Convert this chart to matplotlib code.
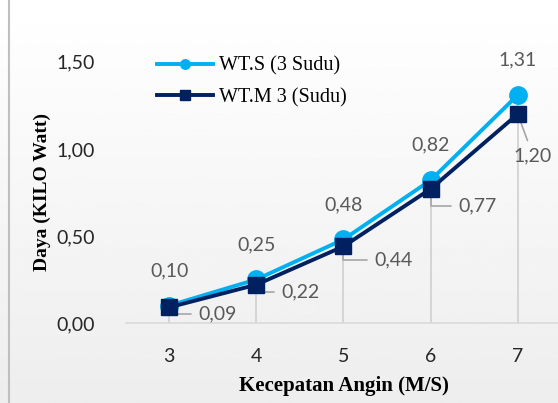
import numpy as np
import matplotlib
matplotlib.use("Agg")
import matplotlib.pyplot as plt
from matplotlib.lines import Line2D

# data
kecepatan = [3, 4, 5, 6, 7]
wt_s = [0.10, 0.25, 0.48, 0.82, 1.31]
wt_m = [0.09, 0.22, 0.44, 0.77, 1.20]
y_ticks = [0.0, 0.5, 1.0, 1.5]
y_ticklabels = ["0,00", "0,50", "1,00", "1,50"]

C_S = "#00B0F0"
C_M = "#002060"
GRAY = "#595959"
NUM_FONT = ["Lato", "DejaVu Sans"]
SERIF = ["Liberation Serif", "DejaVu Serif"]


def fmt(v):
    return f"{v:.2f}".replace(".", ",")


fig = plt.figure(figsize=(5.58, 4.03), dpi=100)

# background gradient (white -> light gray)
bg = fig.add_axes([0, 0, 1, 1], zorder=-10)
grad = np.linspace(1.0, 0.93, 256).reshape(-1, 1)
bg.imshow(grad, cmap="gray", vmin=0, vmax=1, aspect="auto", extent=[0, 1, 0, 1])
bg.axis("off")
fig.add_artist(Line2D([0.017, 0.017], [0, 1], color="#BFBFBF", lw=1.5))

ax = fig.add_axes([0.225, 0.1985, 0.781, 0.648])
ax.patch.set_alpha(0)
ax.set_xlim(2.5, 7.5)
ax.set_ylim(0, 1.5)

# drop lines
ax.vlines(kecepatan, 0, wt_s, color="#D0D0D0", lw=1.2, zorder=1)

ax.plot(kecepatan, wt_s, color=C_S, lw=2.8, marker="o", ms=12.5, zorder=3,
        label="WT.S (3 Sudu)", clip_on=False)
ax.plot(kecepatan, wt_m, color=C_M, lw=2.8, marker="s", ms=12, zorder=4,
        label="WT.M 3 (Sudu)", clip_on=False)

# labels for WT.S (above)
for x, y in zip(kecepatan, wt_s):
    ax.annotate(fmt(y), (x, y), xytext=(0, 19), textcoords="offset points",
                ha="center", va="bottom", fontsize=14, color=GRAY,
                family=NUM_FONT, annotation_clip=False)

# labels for WT.M (below right, with leader lines)
offs_m = [(21, -5), (18, -5), (22, -10), (20, -12), (11, -30)]
for i, (x, y, o) in enumerate(zip(kecepatan, wt_m, offs_m)):
    last = i == len(kecepatan) - 1
    conn = "arc3" if last else "angle,angleA=0,angleB=-90,rad=0"
    ax.annotate(fmt(y), (x, y), xytext=o, textcoords="offset points",
                ha="center" if last else "left", va="center",
                fontsize=14, color=GRAY, family=NUM_FONT,
                annotation_clip=False,
                arrowprops=dict(arrowstyle="-", color="#A6A6A6", lw=1.2,
                                shrinkA=3, shrinkB=0, connectionstyle=conn))

ax.set_xticks(kecepatan)
ax.set_xticklabels([str(k) for k in kecepatan], fontsize=14, family=NUM_FONT,
                   color="#262626")
ax.set_yticks(y_ticks)
ax.set_yticklabels(y_ticklabels, fontsize=14, family=NUM_FONT, color="#262626")
ax.tick_params(axis="x", length=0, pad=18)
ax.tick_params(axis="y", length=0, pad=22)
for s in ["top", "right", "left"]:
    ax.spines[s].set_visible(False)
ax.spines["bottom"].set_color("#D9D9D9")
ax.spines["bottom"].set_linewidth(1.2)

ax.set_xlabel("Kecepatan Angin (M/S)", fontsize=15, fontweight="bold",
              family=SERIF, labelpad=8)
ax.set_ylabel("Daya (KILO Watt)", fontsize=14, fontweight="bold",
              family=SERIF, labelpad=4)

leg = ax.legend(loc="upper left", bbox_to_anchor=(0.03, 1.09), frameon=False,
                prop={"family": SERIF, "size": 14.5}, markerscale=0.55,
                handlelength=2.8, handletextpad=0.3, labelspacing=0.6)

fig.savefig("out.png", dpi=100)
